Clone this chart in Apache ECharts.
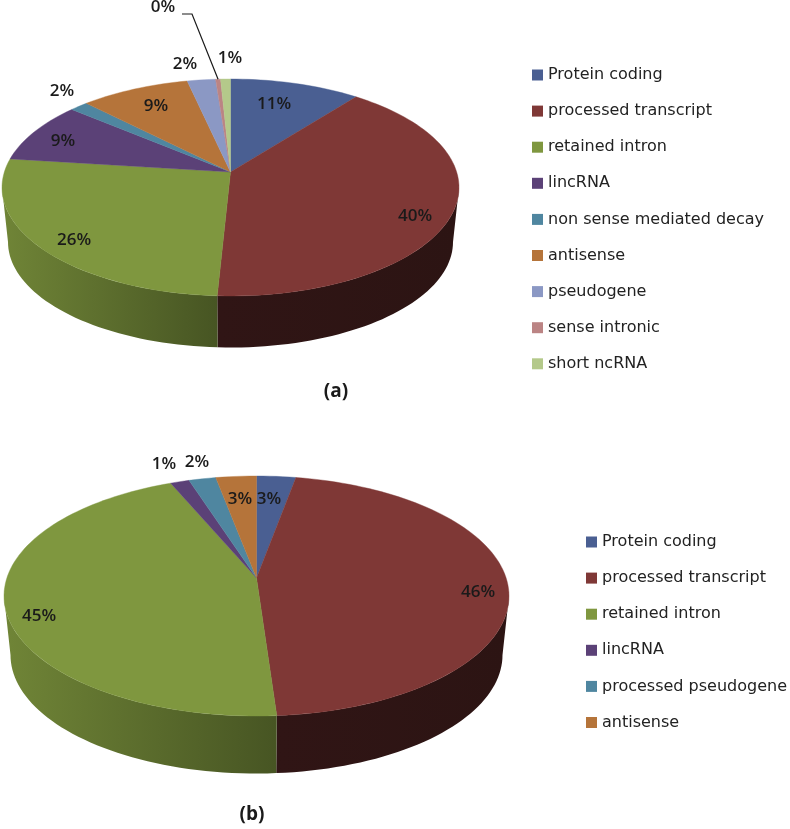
<!DOCTYPE html>
<html>
<head>
<meta charset="utf-8">
<title>Transcript biotypes</title>
<script src="https://cdn.jsdelivr.net/npm/echarts@6/dist/echarts.min.js"></script>
<style>
  html, body { margin: 0; padding: 0; background: #fff; }
  #chart { width: 790px; height: 829px; }
</style>
</head>
<body>
<div id="chart"></div>
<script>
// Values (percent of each pie)
const categoriesA = ['Protein coding', 'processed transcript', 'retained intron', 'lincRNA',
    'non sense mediated decay', 'antisense', 'pseudogene', 'sense intronic', 'short ncRNA'];
const valuesA = [10.6, 40.2, 26.2, 9.1, 1.5, 8.9, 2.3, 0.4, 0.8];
const colorsA = ['#4a5f92', '#7f3836', '#7f973f', '#5b4177', '#4f86a0', '#b5743a', '#8b98c4', '#bb8484', '#b4c98a'];

const categoriesB = ['Protein coding', 'processed transcript', 'retained intron', 'lincRNA',
    'processed pseudogene', 'antisense'];
const valuesB = [2.9, 46, 44.7, 1.4, 2, 3];
const colorsB = ['#4a5f92', '#7f3836', '#7f973f', '#5b4177', '#4f86a0', '#b5743a'];

// Where the percent labels sit, one per slice
const labelSpotsA = [[274, 104], [415, 216], [74, 240], [63, 141], [62, 91], [156, 106], [185, 64], [163, 7], [230, 58]];
const labelSpotsB = [[269, 499], [478, 592], [39, 616], [164, 464], [197, 462], [240, 499]];

// Pie geometry: top rim ellipse, floor ellipse and how far the apex sits above the ellipse centre
const pieA = { cx: 230.5, cy: 187.5, rx: 228.5, ry: 108.5, tilt: 0.143, floorCy: 242, floorRx: 222.5, floorRy: 105.5, leaderIndex: 7 };
const pieB = { cx: 256.5, cy: 596, rx: 252.5, ry: 120, tilt: 0.15, floorCy: 655, floorRx: 246, floorRy: 118.5, leaderIndex: -1 };

const labelFont = '600 17px "Open Sans"';

// Darken a hex colour
function shade(hex, k) {
    const n = parseInt(hex.slice(1), 16);
    const c = [n >> 16, (n >> 8) & 255, n & 255].map(v => Math.round(v * k));
    return `rgb(${c[0]},${c[1]},${c[2]})`;
}

// Perspective mapping of a point on the circle to the tilted ellipse
function rimPoint(pie, share, radius, cy, rx, ry) {
    const a = share / 100 * Math.PI * 2;
    const u = Math.sin(a) * radius;
    const v = Math.cos(a) * radius;
    const d = 1 + pie.tilt * v;
    const X = u * Math.sqrt(1 - pie.tilt * pie.tilt) / d;
    const Y = (v + pie.tilt) / d;
    return [pie.cx + X * rx, cy - Y * ry];
}

function arcPoints(pie, from, to, cy, rx, ry) {
    const pts = [];
    const steps = Math.max(4, Math.ceil((to - from) * 2));
    for (let i = 0; i <= steps; i++) {
        pts.push(rimPoint(pie, from + (to - from) * i / steps, 1, cy, rx, ry));
    }
    return pts;
}

// Build one custom series per slice so the legend can pick them up by name
function buildSeries(pie, categories, values, colors, spots) {
    // Only the front of the rim shows a wall, from the left tangent round to the right one
    const frontStart = Math.acos(-pie.tilt) / (Math.PI * 2) * 100;
    const frontEnd = 100 - frontStart;
    let running = 0;
    return categories.map((name, i) => {
        const start = running;
        running += values[i];
        const end = running;
        const color = colors[i];
        const isGreen = name === 'retained intron';
        const isRed = name === 'processed transcript';
        const leftShade = isGreen ? 0.88 : isRed ? 0.38 : 0.45;
        const rightShade = isGreen ? 0.56 : isRed ? 0.35 : 0.35;
        return {
            type: 'custom',
            name: name,
            coordinateSystem: 'none',
            silent: true,
            animation: false,
            itemStyle: { color: color },
            data: [[start, end, values[i]]],
            renderItem: function (params, api) {
                const from = api.value(0);
                const to = api.value(1);
                const topArc = arcPoints(pie, from, to, pie.cy, pie.rx, pie.ry);
                const apex = rimPoint(pie, 0, 0, pie.cy, pie.rx, pie.ry);
                const children = [
                    {
                        type: 'polygon',
                        z2: 10,
                        shape: { points: [apex].concat(topArc) },
                        style: { fill: color, stroke: color, lineWidth: 0.4 }
                    },
                    {
                        type: 'text',
                        z2: 20,
                        style: {
                            text: Math.round(api.value(2)) + '%',
                            x: spots[i][0],
                            y: spots[i][1],
                            align: 'center',
                            verticalAlign: 'middle',
                            font: labelFont,
                            fill: '#1a1a1a'
                        }
                    }
                ];
                const wallFrom = Math.max(from, frontStart);
                const wallTo = Math.min(to, frontEnd);
                if (wallTo > wallFrom) {
                    const wallTop = arcPoints(pie, wallFrom, wallTo, pie.cy, pie.rx, pie.ry);
                    const wallFloor = arcPoints(pie, wallFrom, wallTo, pie.floorCy, pie.floorRx, pie.floorRy);
                    const xs = wallTop.map(p => p[0]);
                    children.push({
                        type: 'polygon',
                        z2: 1,
                        shape: { points: wallTop.concat(wallFloor.slice().reverse()) },
                        style: {
                            fill: new echarts.graphic.LinearGradient(Math.min.apply(null, xs), 0, Math.max.apply(null, xs), 0, [
                                { offset: 0, color: shade(color, leftShade) },
                                { offset: 1, color: shade(color, rightShade) }
                            ], true)
                        }
                    });
                }
                // 0% label is too thin to sit on its slice, so it gets a leader line
                if (i === pie.leaderIndex) {
                    const tip = rimPoint(pie, (from + to) / 2, 1, pie.cy, pie.rx, pie.ry);
                    children.push({
                        type: 'polyline',
                        z2: 15,
                        shape: { points: [[spots[i][0] + 19, spots[i][1] + 7], [spots[i][0] + 29, spots[i][1] + 7], tip] },
                        style: { fill: null, stroke: '#1a1a1a', lineWidth: 1.2 }
                    });
                }
                return { type: 'group', children: children };
            }
        };
    });
}

function legendFor(categories, left, top) {
    return {
        data: categories,
        orient: 'vertical',
        left: left,
        top: top,
        icon: 'rect',
        itemWidth: 11,
        itemHeight: 11,
        itemGap: 20.1,
        selectedMode: false,
        padding: 0,
        textStyle: {
            fontFamily: 'DejaVu Sans',
            fontSize: 16,
            lineHeight: 16,
            color: '#222',
            padding: [0, 0, 0, 0]
        }
    };
}

const chart = echarts.init(document.getElementById('chart'), null, { renderer: 'canvas' });
chart.setOption({
    backgroundColor: '#fff',
    animation: false,
    title: [
        { text: '(a)', left: 336, top: 382, textAlign: 'center', padding: 0,
          textStyle: { fontFamily: 'Open Sans', fontSize: 19, fontWeight: 'bold', color: '#1a1a1a' } },
        { text: '(b)', left: 252, top: 805, textAlign: 'center', padding: 0,
          textStyle: { fontFamily: 'Open Sans', fontSize: 19, fontWeight: 'bold', color: '#1a1a1a' } }
    ],
    legend: [
        legendFor(categoriesA, 532, 67),
        legendFor(categoriesB, 586, 534)
    ],
    series: buildSeries(pieA, categoriesA, valuesA, colorsA, labelSpotsA)
        .concat(buildSeries(pieB, categoriesB, valuesB, colorsB, labelSpotsB))
});
</script>
</body>
</html>
